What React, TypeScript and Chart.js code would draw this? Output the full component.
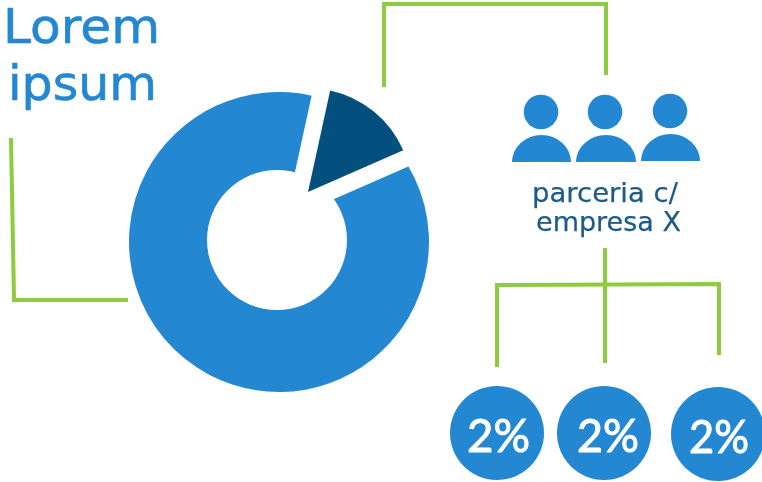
import React, { useEffect, useRef } from "react";
import { Chart, registerables } from "chart.js";

Chart.register(...registerables);

const ringValues = [92, 8];
const holeValues = [100];
const wedgeValues = [15, 85];
const wedgeLabels = ["parceria c/ empresa X", "resto"];
const titleLines = ["Lorem", "ipsum"];
const partnerLines = ["parceria c/", "empresa X"];
const shareLabels = ["2%", "2%", "2%"];

const BLUE = "#2387d1";
const DARK = "#03507f";
const GREEN = "#8ccc3e";
const TEXT_DARK = "#1d5a85";
const FONT = "'DejaVu Sans', sans-serif";
const ROTATION = 12.3;
const CLEAR = "rgba(0,0,0,0)";

function makeChart(canvas: HTMLCanvasElement, data: number[], colors: string[], rotation: number, cutout: number | string, borderWidth: number[] = [0, 0]) {
  return new Chart(canvas, {
    type: "doughnut",
    data: {
      labels: wedgeLabels,
      datasets: [{ data, backgroundColor: colors, borderColor: colors, borderWidth }],
    },
    options: {
      animation: false,
      responsive: false,
      rotation,
      cutout,
      events: [],
      plugins: { legend: { display: false }, tooltip: { enabled: false } },
    },
  });
}

const absolute = (left: number, top: number): React.CSSProperties => ({ position: "absolute", left, top, display: "block" });

export default function App() {
  const ringRef = useRef<HTMLCanvasElement>(null);
  const holeRef = useRef<HTMLCanvasElement>(null);
  const gapRef = useRef<HTMLCanvasElement>(null);
  const wedgeRef = useRef<HTMLCanvasElement>(null);

  useEffect(() => {
    const charts = [
      makeChart(ringRef.current!, ringValues, [BLUE, CLEAR], 42, 66),
      makeChart(holeRef.current!, holeValues, ["#ffffff"], 0, 0),
      makeChart(gapRef.current!, wedgeValues, ["#ffffff", CLEAR], ROTATION, 0, [34, 0]),
      makeChart(wedgeRef.current!, wedgeValues, [DARK, CLEAR], ROTATION, 0),
    ];
    return () => charts.forEach((c) => c.destroy());
  }, []);

  return (
    <div style={{ position: "fixed", left: 0, top: 0, width: 762, height: 482, overflow: "hidden", background: "#fff" }}>
      <canvas ref={ringRef} width={300} height={300} style={absolute(129, 92)} />
      <canvas ref={holeRef} width={140} height={140} style={absolute(207, 170)} />
      <canvas ref={gapRef} width={242} height={242} style={absolute(187, 71)} />
      <canvas ref={wedgeRef} width={208} height={208} style={absolute(204, 88)} />
      <svg width={762} height={482} style={absolute(0, 0)}>
        <g fill="none" stroke={GREEN} strokeWidth={4}>
          <polyline points="384,87 384,4 606,4 606,75" />
          <polyline points="11,138 14,300 128,300" />
          <polyline points="605,248 605,363" />
          <polyline points="497,367 497,285 719,284 719,355" />
        </g>
        <g fill={BLUE}>
          <circle cx={541} cy={112} r={17.3} />
          <circle cx={605} cy={112} r={17.3} />
          <circle cx={670} cy={111} r={17.3} />
          <path d="M512 162 A29.5 27 0 0 1 571 162 Z" />
          <path d="M576 162 A30 27 0 0 1 636 162 Z" />
          <path d="M641 161 A29.5 27 0 0 1 700 161 Z" />
          <circle cx={497} cy={433} r={47} />
          <circle cx={604} cy={433} r={47} />
          <circle cx={718} cy={434} r={47} />
        </g>
        <g fontFamily={FONT} fill={BLUE} stroke={BLUE} strokeWidth={0.6} strokeLinejoin="round" fontSize={48}>
          <text x={3} y={43} textLength={157} lengthAdjust="spacingAndGlyphs">{titleLines[0]}</text>
          <text x={8} y={100} textLength={149} lengthAdjust="spacingAndGlyphs">{titleLines[1]}</text>
        </g>
        <g fontFamily={FONT} fill={TEXT_DARK} stroke={TEXT_DARK} strokeWidth={0.25} strokeLinejoin="round" fontSize={27}>
          <text x={532} y={202} textLength={146} lengthAdjust="spacingAndGlyphs">{partnerLines[0]}</text>
          <text x={536} y={231} textLength={145} lengthAdjust="spacingAndGlyphs">{partnerLines[1]}</text>
        </g>
        <g fontFamily="Lato, sans-serif" fill="#fff" stroke="#fff" strokeWidth={1} strokeLinejoin="round" fontSize={47}>
          <text x={467} y={452} textLength={63} lengthAdjust="spacingAndGlyphs">{shareLabels[0]}</text>
          <text x={577} y={452} textLength={62} lengthAdjust="spacingAndGlyphs">{shareLabels[1]}</text>
          <text x={689} y={453} textLength={60} lengthAdjust="spacingAndGlyphs">{shareLabels[2]}</text>
        </g>
      </svg>
    </div>
  );
}
